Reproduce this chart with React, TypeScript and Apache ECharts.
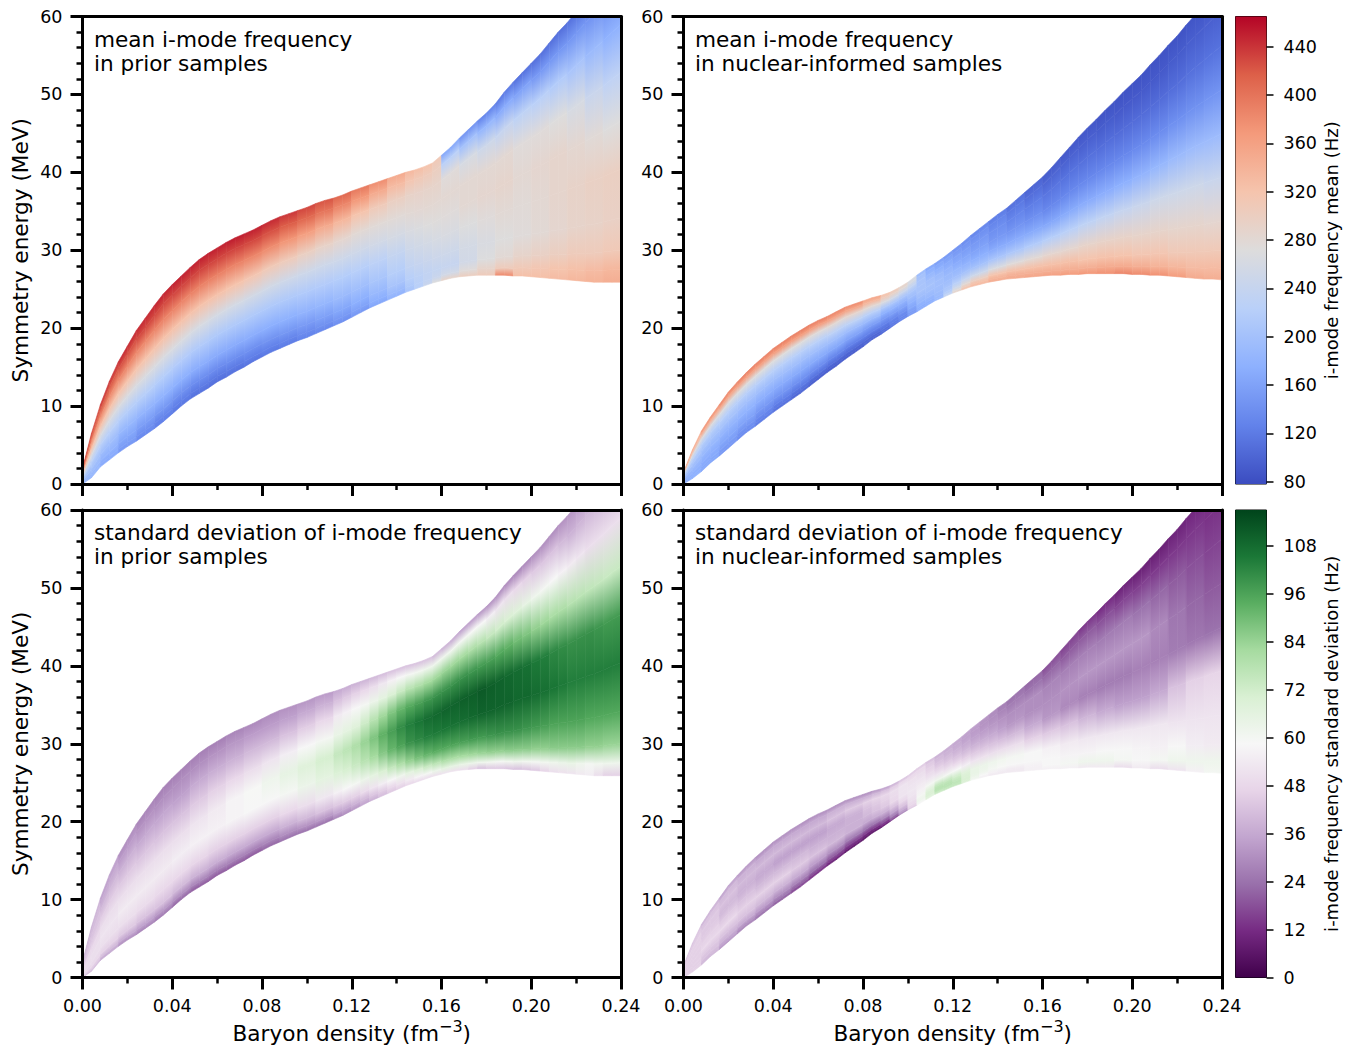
import React, { useEffect, useRef } from "react";
import * as echarts from "echarts";

const FONT = "DejaVu Sans";
const meanBarTicks = [80, 120, 160, 200, 240, 280, 320, 360, 400, 440];
const stdBarTicks = [0, 12, 24, 36, 48, 60, 72, 84, 96, 108];
const meanRange = [78, 465];
const stdRange = [0, 117];

// Band edges, one entry per 0.004 fm^-3
const priorUpper = [2.0,6.5,10.2,13.2,15.7,17.7,19.7,21.3,22.9,24.4,25.6,26.7,27.8,28.8,29.6,30.3,31.0,31.6,32.1,32.6,33.2,33.8,34.3,34.7,35.1,35.5,36.0,36.4,36.7,37.1,37.6,38.0,38.4,38.8,39.2,39.6,40.0,40.3,40.7,41.2,42.2,43.2,44.4,45.5,46.6,47.6,48.8,50.3,51.6,52.8,54.0,55.2,56.6,58.0,59.2,60.6,62.0,63.3,64.6,66.0,67.3];
const priorLower = [0,0.8,2.2,3.1,4.0,4.8,5.5,6.3,7.1,8.0,9.0,10.0,10.9,11.6,12.3,13.1,13.7,14.4,15.0,15.7,16.3,16.9,17.4,17.9,18.4,18.8,19.3,19.8,20.3,20.8,21.4,22.0,22.6,23.1,23.6,24.1,24.6,25.0,25.4,25.8,26.1,26.4,26.6,26.7,26.8,26.8,26.8,26.8,26.7,26.7,26.6,26.5,26.4,26.3,26.2,26.1,26.0,25.9,25.9,25.9,25.9];
const nuclearUpper = [1.5,4.4,6.8,8.6,10.2,11.8,13.1,14.3,15.4,16.4,17.4,18.2,19.0,19.7,20.4,21.0,21.5,22.1,22.7,23.1,23.5,23.9,24.2,24.6,25.2,25.9,26.8,27.6,28.3,29.1,30.0,30.9,31.9,32.8,33.7,34.6,35.4,36.4,37.4,38.4,39.4,40.6,41.9,43.2,44.5,45.7,46.8,48.0,49.1,50.3,51.4,52.5,53.8,55.0,56.3,57.5,58.9,60.2,61.4,62.6,63.8];
const nuclearLower = [0,0.7,1.6,2.7,3.6,4.6,5.6,6.6,7.4,8.3,9.2,10.0,10.8,11.6,12.5,13.4,14.3,15.1,16.0,16.8,17.6,18.5,19.2,20.0,20.8,21.5,22.1,22.8,23.5,24.0,24.5,24.9,25.3,25.6,25.9,26.1,26.3,26.4,26.5,26.6,26.7,26.8,26.8,26.9,26.9,27.0,27.0,27.0,27.0,27.0,26.9,26.9,26.8,26.8,26.7,26.6,26.5,26.4,26.3,26.3,26.2];

// Share of the band's height, bottom to top, where each value below was read
const bandFractions = [0, 0.04, 0.1, 0.2, 0.35, 0.5, 0.65, 0.8, 0.92, 1];

// Density at which each row of the table below it starts
const meanPriorColumns = [0,0.008,0.016,0.024,0.032,0.04,0.048,0.056,0.064,0.072,0.08,0.088,0.096,0.104,0.112,0.12,0.128,0.136,0.144,0.148,0.152,0.156,0.16,0.168,0.176,0.184,0.192,0.2,0.208,0.216,0.224,0.232];
const meanPrior = [
[185,185,190,200,225,265,320,375,415,430],[170,170,180,195,225,265,320,380,420,440],[150,155,165,185,220,265,320,385,425,445],[135,140,155,180,220,265,320,385,430,445],[125,130,148,178,218,265,322,388,430,448],[118,124,142,175,216,265,322,388,432,450],[112,120,138,172,214,262,322,390,432,450],[110,118,136,170,212,260,322,390,432,450],[112,120,138,170,212,258,320,388,432,452],[115,124,140,172,212,256,315,385,430,450],[118,126,144,174,212,254,310,380,425,445],[122,130,148,176,212,252,305,372,418,438],[128,136,152,180,214,250,298,362,410,430],[132,142,158,184,216,250,292,350,400,422],[140,150,165,190,218,250,285,335,385,410],[150,160,175,196,222,252,280,320,370,395],[165,175,188,206,228,255,278,308,350,378],[180,190,205,220,238,260,278,298,330,350],[205,212,222,235,250,265,280,292,315,332],[225,224,229,240,254,268,281,291,310,326],[245,235,235,245,258,272,282,290,305,320],[270,245,238,248,262,274,282,290,300,310],[290,255,240,250,265,275,282,275,225,165],[300,275,255,258,270,282,282,262,200,145],[305,290,270,265,275,285,282,250,185,130],[380,305,280,272,280,288,282,240,170,120],[325,310,290,275,278,282,275,230,160,112],[325,315,295,280,282,285,275,225,150,110],[330,320,300,285,288,288,272,215,148,110],[335,325,305,290,292,284,262,205,148,112],[340,330,305,292,296,278,245,190,145,115],[345,335,310,295,298,272,232,178,140,115],
];
const meanNuclearColumns = [0,0.008,0.016,0.024,0.032,0.04,0.048,0.056,0.064,0.072,0.08,0.088,0.092,0.096,0.1,0.104,0.108,0.112,0.116,0.12,0.124,0.128,0.136,0.144,0.152,0.16,0.168,0.176,0.184,0.192,0.2,0.208,0.216,0.224,0.232];
const meanNuclear = [
[175,175,175,180,190,205,225,265,330,350],[165,165,168,172,185,200,220,265,345,375],[150,150,155,165,180,200,222,268,355,385],[135,138,145,160,178,198,222,270,360,390],[120,125,135,150,172,195,222,270,362,390],[110,115,125,145,170,195,222,272,365,392],[100,106,118,140,168,195,222,272,365,392],[92,98,112,136,168,195,225,275,362,390],[90,95,108,130,165,195,228,280,360,385],[90,95,105,125,160,192,230,285,355,380],[95,100,105,125,155,190,225,280,335,355],[105,108,112,125,150,175,210,265,305,320],[115,118,122,132,155,178,208,255,292,305],[130,130,132,140,160,180,205,245,280,290],[150,152,155,165,178,195,208,235,260,265],[170,172,175,185,195,205,205,205,200,190],[175,175,178,188,198,203,198,185,175,165],[190,188,190,195,198,198,190,175,165,155],[240,230,215,205,195,190,180,168,158,150],[290,275,250,225,198,185,170,160,150,145],[320,305,280,240,200,180,165,155,145,138],[330,325,300,250,200,175,160,150,140,130],[345,340,320,265,205,170,150,140,130,122],[350,345,325,275,210,170,145,130,118,110],[355,345,325,280,215,168,140,122,108,100],[360,345,325,285,220,165,132,115,100,92],[365,345,325,285,225,168,132,112,98,90],[370,345,320,290,230,170,132,110,95,88],[375,350,322,292,235,172,132,108,92,85],[385,350,320,292,240,175,132,106,90,84],[380,345,315,290,245,180,134,106,90,84],[375,340,315,290,250,185,136,106,90,84],[365,335,310,288,250,190,140,108,92,84],[350,330,310,288,250,192,142,110,94,86],[345,330,310,285,245,192,145,112,96,88],
];
const stdPriorColumns = [0,0.008,0.016,0.024,0.032,0.04,0.048,0.056,0.064,0.072,0.08,0.088,0.096,0.104,0.112,0.116,0.12,0.124,0.128,0.132,0.136,0.14,0.144,0.148,0.152,0.156,0.16,0.164,0.168,0.172,0.176,0.18,0.184,0.188,0.192,0.196,0.2,0.204,0.208,0.212,0.216,0.22,0.224,0.228,0.232,0.236];
const stdPrior = [
[40,44,48,50,50,48,44,42,40,38],[35,40,46,50,52,50,45,40,36,34],[30,36,44,50,54,50,44,38,33,30],[28,34,42,49,54,50,43,36,31,28],[26,32,42,48,54,50,42,35,30,27],[22,30,40,48,55,50,42,34,30,27],[20,28,38,47,56,52,44,36,30,27],[20,27,37,46,56,54,46,37,31,27],[20,27,36,46,57,57,48,38,32,28],[20,27,36,46,58,59,50,40,33,29],[22,28,36,46,58,62,52,40,33,30],[24,30,38,48,60,65,55,42,34,31],[24,31,40,50,63,68,58,45,36,32],[24,32,42,53,66,71,60,48,38,33],
[28,35,44,56,69,75,64,54,42,36],[30,36,45,58,71,77,66,56,44,37],[32,38,46,60,74,80,68,58,46,38],[35,40,49,63,78,84,73,60,48,39],[38,43,52,66,82,88,78,63,50,40],[41,45,55,70,87,93,83,66,53,41],[44,48,58,75,92,97,88,70,56,42],[46,51,62,80,96,101,92,74,58,42],[48,54,66,85,100,104,95,78,60,42],[49,57,70,89,102,106,97,80,61,42],[50,60,74,92,104,108,99,82,62,42],[51,63,77,94,105,109,100,83,62,40],[52,66,80,95,106,110,100,84,62,38],[51,65,81,96,107,110,100,83,61,36],[50,64,82,97,108,111,100,82,60,34],[46,63,83,98,109,111,99,80,59,33],[42,62,84,98,110,112,98,78,58,32],[44,61,85,99,110,111,97,75,55,31],[44,60,85,100,110,110,95,72,52,30],[43,61,86,100,110,109,93,70,50,29],[42,62,86,100,109,108,90,68,48,28],[43,61,86,99,109,107,88,65,46,29],[44,60,85,98,108,105,85,62,44,30],[47,61,85,97,107,104,83,60,43,30],[50,62,86,96,106,102,81,58,42,30],[51,63,86,96,105,101,80,56,40,31],[52,64,86,96,104,100,78,54,38,32],[54,62,86,96,104,100,77,52,39,33],[55,60,85,95,104,100,76,50,40,34],[50,61,85,95,104,99,75,50,40,34],[46,62,84,95,104,98,74,50,40,35],[46,62,84,95,104,98,74,50,40,35],
];
const stdNuclearColumns = [0,0.008,0.016,0.024,0.032,0.04,0.048,0.056,0.064,0.072,0.08,0.084,0.088,0.092,0.096,0.1,0.104,0.108,0.112,0.116,0.12,0.124,0.128,0.132,0.136,0.14,0.144,0.152,0.16,0.168,0.176,0.184,0.192,0.2,0.208,0.216,0.224,0.232];
const stdNuclear = [
[46,46,46,46,46,46,46,46,44,42],[40,40,42,44,48,46,44,44,42,38],[32,34,38,42,48,44,40,42,40,34],[28,30,36,42,46,42,38,40,38,32],[24,27,33,40,46,40,36,40,36,30],[20,24,30,38,46,40,34,40,36,30],[16,20,27,36,44,40,34,40,36,30],[12,16,24,33,42,38,34,40,36,30],[8,13,20,30,40,38,36,42,38,30],[5,10,16,26,38,38,38,44,38,30],
[4,8,14,24,36,40,42,46,38,30],[5,9,15,25,37,42,44,47,40,32],[8,12,18,28,38,44,46,48,42,34],[16,20,26,34,42,48,49,50,45,38],[28,32,36,42,48,52,52,52,48,42],[44,46,48,50,52,53,52,51,48,44],[58,60,62,60,56,54,52,50,48,44],[66,68,70,68,60,53,49,46,44,41],[72,75,78,76,62,52,46,42,40,38],[74,76,78,75,60,50,44,40,38,37],[74,76,76,72,58,48,42,38,36,36],[68,70,70,68,55,46,40,36,34,35],[60,62,64,64,52,44,38,34,33,34],[56,58,62,63,51,43,37,33,31,32],[54,56,60,62,50,42,36,32,30,30],[54,55,59,61,50,41,34,31,28,27],
[54,54,58,60,50,40,32,30,26,24],[56,56,58,58,46,36,30,30,24,22],[56,58,58,56,44,32,30,28,22,18],[56,60,57,54,42,29,31,27,20,16],[54,62,57,53,39,27,32,27,20,14],[54,62,58,53,36,26,32,26,18,12],[50,60,58,53,34,26,32,26,16,10],[54,58,57,53,34,27,32,24,15,9],[50,60,56,53,36,27,29,22,14,9],[52,62,58,52,42,26,25,20,14,10],[56,62,55,52,46,25,22,18,14,11],[60,62,54,52,47,24,20,16,13,12],
];

const coolwarm = ["#3b4cc0","#6282ea","#8db0fe","#b9d0f9","#dddcdc","#f5c4ad","#f49a7b","#dd6049","#b40426"];
const prgn = ["#40004b","#762a83","#9970ab","#c2a5cf","#e7d4e8","#f7f7f7","#d9f0d3","#a6dba0","#5aae61","#1b7837","#00441b"];

function colorOf(palette: string[], range: number[], v: number) {
  const t = Math.max(0, Math.min(1, (v - range[0]) / (range[1] - range[0])));
  return echarts.color.lerp(t, palette) as string;
}

const STEP = 0.004;

function rowAt(columns: number[], values: number[][], x: number) {
  let r = 0;
  for (let j = 0; j < columns.length; j++) if (columns[j] <= x + 1e-9) r = j;
  return values[r];
}

function bandRows(upper: number[], lower: number[], columns: number[], values: number[][]) {
  const rows: number[][] = [];
  for (let i = 0; i + 1 < upper.length; i++) {
    rows.push([i * STEP, lower[i], upper[i], (i + 1) * STEP, lower[i + 1], upper[i + 1], ...rowAt(columns, values, i * STEP)]);
  }
  return rows;
}

function bandSeries(grid: number, upper: number[], lower: number[], columns: number[], values: number[][], palette: string[], range: number[]) {
  return {
    type: "custom",
    coordinateSystem: "cartesian2d",
    xAxisIndex: grid,
    yAxisIndex: grid,
    clip: true,
    silent: true,
    data: bandRows(upper, lower, columns, values),
    renderItem: (_p: any, api: any) => {
      const x0 = api.value(0), lo0 = api.value(1), hi0 = api.value(2);
      const x1 = api.value(3), lo1 = api.value(4), hi1 = api.value(5);
      const children: any[] = [];
      for (let k = 0; k + 1 < bandFractions.length; k++) {
        const f = bandFractions[k], g = bandFractions[k + 1];
        const a0 = api.coord([x0, lo0 + f * (hi0 - lo0)]);
        const a1 = api.coord([x1, lo1 + f * (hi1 - lo1)]);
        const b1 = api.coord([x1, lo1 + g * (hi1 - lo1)]);
        const b0 = api.coord([x0, lo0 + g * (hi0 - lo0)]);
        const xm = (a0[0] + a1[0]) / 2;
        const yA = (a0[1] + a1[1]) / 2, yB = (b0[1] + b1[1]) / 2;
        const m = ((a1[1] - a0[1]) + (b1[1] - b0[1])) / 2 / (a1[0] - a0[0]);
        const norm = Math.sqrt(1 + m * m);
        const nx = -m / norm, ny = 1 / norm;
        const t = (yB - yA) * ny;
        const fill = new echarts.graphic.LinearGradient(xm, yA, xm + t * nx, yA + t * ny, [
          { offset: 0, color: colorOf(palette, range, api.value(6 + k)) },
          { offset: 1, color: colorOf(palette, range, api.value(7 + k)) },
        ], true);
        children.push({
          type: "polygon",
          shape: { points: [a0, a1, b1, b0] },
          style: { fill, stroke: fill, lineWidth: 0.6 },
        });
      }
      return { type: "group", children };
    },
  };
}

function barSeries(index: number, palette: string[], range: number[]) {
  return {
    type: "custom",
    coordinateSystem: "cartesian2d",
    xAxisIndex: index,
    yAxisIndex: index,
    silent: true,
    data: [[0, range[0], 1, range[1]]],
    renderItem: (_p: any, api: any) => {
      const a = api.coord([api.value(0), api.value(1)]);
      const b = api.coord([api.value(2), api.value(3)]);
      const stops = palette.map((c, i) => ({ offset: 1 - i / (palette.length - 1), color: c }));
      stops.reverse();
      return {
        type: "rect",
        shape: { x: a[0], y: b[1], width: b[0] - a[0], height: a[1] - b[1] },
        style: { fill: new echarts.graphic.LinearGradient(0, 0, 0, 1, stops) },
      };
    },
  };
}

const panels = [
  { left: 82.5, top: 16.5, bottom: false, yName: true, title: "mean i-mode frequency\nin prior samples" },
  { left: 683.5, top: 16.5, bottom: false, yName: false, title: "mean i-mode frequency\nin nuclear-informed samples" },
  { left: 82.5, top: 510, bottom: true, yName: true, title: "standard deviation of i-mode frequency\nin prior samples" },
  { left: 683.5, top: 510, bottom: true, yName: false, title: "standard deviation of i-mode frequency\nin nuclear-informed samples" },
];
const PW = 538.5, PH = 467.5;
const LINE = { color: "#000", width: 3 };
const BIG = 21.6;
const TICK = 17.5;

function buildOption() {
  const grid: any[] = panels.map((p) => ({ left: p.left, top: p.top, width: PW, height: PH, containLabel: false, outerBoundsMode: "none" }));
  grid.push({ left: 1235.5, top: 16.5, width: 31, height: PH, show: true, borderColor: "#000", borderWidth: 1, backgroundColor: "transparent", outerBoundsMode: "none" });
  grid.push({ left: 1235.5, top: 510, width: 31, height: PH, show: true, borderColor: "#000", borderWidth: 1, backgroundColor: "transparent", outerBoundsMode: "none" });

  const xAxis: any[] = [];
  const yAxis: any[] = [];
  panels.forEach((p, i) => {
    xAxis.push({
      type: "value", gridIndex: i, min: 0, max: 0.24, interval: 0.04, position: "bottom", z: 5,
      splitLine: { show: false },
      axisLine: { show: true, lineStyle: LINE, onZero: false },
      axisTick: { show: true, length: 12, lineStyle: { color: "#000", width: 3 } },
      minorTick: { show: true, splitNumber: 2, length: 6, lineStyle: { color: "#000", width: 2.5 } },
      axisLabel: {
        show: p.bottom, margin: 19, color: "#000", fontFamily: FONT, fontSize: TICK,
        showMinLabel: true, showMaxLabel: true,
        formatter: (v: number) => v.toFixed(2),
      },
      name: p.bottom ? "{a|Baryon density (fm}{b|\u22123}{a|)}" : "",
      nameLocation: "middle",
      nameGap: 41,
      nameTextStyle: {
        rich: {
          a: { fontFamily: FONT, fontSize: BIG, color: "#000", lineHeight: 26, verticalAlign: "bottom" },
          b: { fontFamily: FONT, fontSize: 16, color: "#000", lineHeight: 16, verticalAlign: "top" },
        },
      },
    });
    yAxis.push({
      type: "value", gridIndex: i, min: 0, max: 60, interval: 10, position: "left", z: 5,
      splitLine: { show: false },
      axisLine: { show: true, lineStyle: LINE, onZero: false },
      axisTick: { show: true, length: 12, lineStyle: { color: "#000", width: 3 } },
      minorTick: { show: true, splitNumber: 5, length: 6, lineStyle: { color: "#000", width: 2.5 } },
      axisLabel: { margin: 20, color: "#000", fontFamily: FONT, fontSize: TICK },
      name: p.yName ? "Symmetry energy (MeV)" : "",
      nameLocation: "middle",
      nameGap: 51,
      nameRotate: 90,
      nameTextStyle: { fontFamily: FONT, fontSize: BIG, color: "#000" },
    });
  });
  // colour bars
  [meanRange, stdRange].forEach((range, i) => {
    const ticks = i === 0 ? meanBarTicks : stdBarTicks;
    xAxis.push({ type: "value", gridIndex: 4 + i, min: 0, max: 1, show: false });
    yAxis.push({
      type: "value", gridIndex: 4 + i, min: range[0], max: range[1], position: "right", z: 5,
      splitLine: { show: false },
      axisLine: { show: false, onZero: false },
      axisTick: { show: true, customValues: ticks, length: 7, lineStyle: { color: "#000", width: 1.5 } },
      axisLabel: { customValues: ticks, margin: 17, color: "#000", fontFamily: FONT, fontSize: TICK },
      name: i === 0 ? "i-mode frequency mean (Hz)" : "i-mode frequency standard deviation (Hz)",
      nameLocation: "middle",
      nameGap: 56,
      nameRotate: 90,
      nameTextStyle: { fontFamily: FONT, fontSize: 18, color: "#000" },
    });
  });
  // top and right spines
  panels.forEach((_p, i) => {
    xAxis.push({
      type: "value", gridIndex: i, min: 0, max: 0.24, position: "top", z: 5,
      splitLine: { show: false }, axisTick: { show: false }, axisLabel: { show: false },
      axisLine: { show: true, lineStyle: LINE, onZero: false },
    });
    yAxis.push({
      type: "value", gridIndex: i, min: 0, max: 60, position: "right", z: 5,
      splitLine: { show: false }, axisTick: { show: false }, axisLabel: { show: false },
      axisLine: { show: true, lineStyle: LINE, onZero: false },
    });
  });

  const series: any[] = [
    bandSeries(0, priorUpper, priorLower, meanPriorColumns, meanPrior, coolwarm, meanRange),
    bandSeries(1, nuclearUpper, nuclearLower, meanNuclearColumns, meanNuclear, coolwarm, meanRange),
    bandSeries(2, priorUpper, priorLower, stdPriorColumns, stdPrior, prgn, stdRange),
    bandSeries(3, nuclearUpper, nuclearLower, stdNuclearColumns, stdNuclear, prgn, stdRange),
    barSeries(4, coolwarm, meanRange),
    barSeries(5, prgn, stdRange),
  ];

  const graphic = panels.map((p) => ({
    type: "text",
    left: p.left + 11.5,
    top: p.top + 10.5,
    z: 10,
    style: { text: p.title, fontFamily: FONT, fontSize: BIG, lineHeight: 24, fill: "#000" },
  }));

  return { animation: false, backgroundColor: "#fff", grid, xAxis, yAxis, series, graphic };
}

export default function App() {
  const ref = useRef<HTMLDivElement>(null);
  useEffect(() => {
    const chart = echarts.init(ref.current!, undefined, { renderer: "svg" });
    chart.setOption(buildOption() as any);
    return () => chart.dispose();
  }, []);
  return <div ref={ref} style={{ position: "fixed", left: 0, top: 0, width: 1349, height: 1045 }} />;
}
